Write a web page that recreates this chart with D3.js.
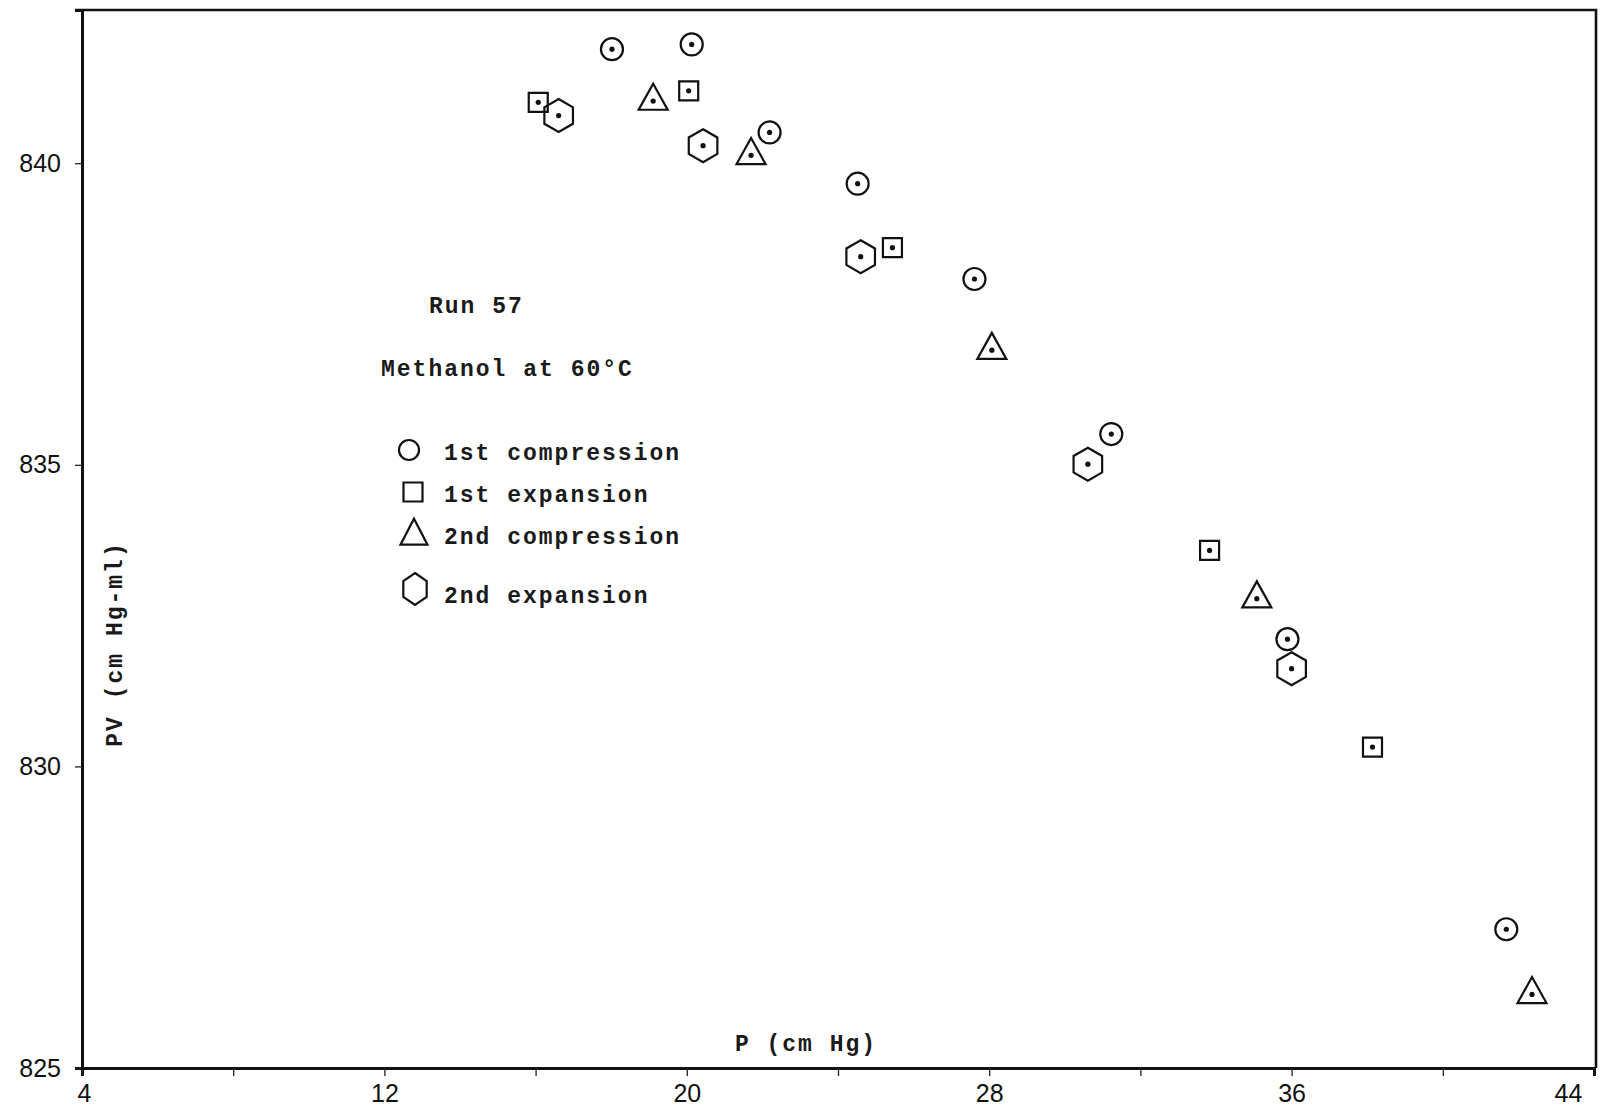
<!DOCTYPE html>
<meta charset="utf-8">
<style>
    body { margin: 0; background: #fff; }
    .tick-label { font-family: 'Liberation Sans', sans-serif; font-size: 25px; fill: #111; }
    .type { font-family: 'Liberation Mono', monospace; font-size: 23px; font-weight: bold; fill: #1a1a1a; letter-spacing: 2px; }
    .mark { fill: none; stroke: #111; stroke-width: 2.2px; }
    .dot { fill: #111; }
</style>
<script src="https://cdn.jsdelivr.net/npm/d3@7"></script>
<body>
<div id="chart"></div>
<script>
// readings: P (cm Hg) and PV (cm Hg-ml)
var comp1P  = [18.02, 20.13, 22.19, 24.52, 27.61, 31.23, 35.89, 41.68];
var comp1PV = [841.89, 841.97, 840.51, 839.66, 838.08, 835.51, 832.11, 827.30];

var exp1P  = [16.07, 20.05, 25.44, 33.83, 38.14];
var exp1PV = [841.01, 841.20, 838.60, 833.58, 830.32];

var comp2P  = [19.11, 21.70, 28.07, 35.08, 42.36];
var comp2PV = [841.03, 840.13, 836.90, 832.78, 826.22];

var exp2P  = [16.61, 20.43, 24.60, 30.61, 36.00];
var exp2PV = [840.79, 840.29, 838.45, 835.01, 831.62];

var seriesNames = ["1st compression", "1st expansion", "2nd compression", "2nd expansion"];
var xTicks = [4, 8, 12, 16, 20, 24, 28, 32, 36, 40, 44];
var xTickLabels = ["4", "", "12", "", "20", "", "28", "", "36", "", "44"];
var yTicks = [825, 830, 835, 840];

var width = 1601, height = 1107;

var svg = d3.select("#chart").append("svg")
    .attr("width", width)
    .attr("height", height);

var x = d3.scaleLinear().domain([4, 44]).range([82, 1594]);
var y = d3.scaleLinear().domain([825, 842.54]).range([1068, 10]);

// marker shapes
function circlePath(r) {
    return "M" + r + ",0A" + r + "," + r + " 0 1,1 " + (-r) + ",0A" + r + "," + r + " 0 1,1 " + r + ",0Z";
}
function squarePath(s) {
    var h = s / 2;
    return "M" + (-h) + "," + (-h) + "H" + h + "V" + h + "H" + (-h) + "Z";
}
function trianglePath(w, ht) {
    // centroid at origin
    return "M0," + (-ht * 2 / 3) + "L" + (w / 2) + "," + (ht / 3) + "L" + (-w / 2) + "," + (ht / 3) + "Z";
}
function hexPath(rx, ry) {
    var pts = [];
    for (var i = 0; i < 6; i++) {
        var a = Math.PI / 3 * i - Math.PI / 2;
        pts.push([rx * Math.cos(a), ry * Math.sin(a)]);
    }
    return "M" + pts.map(function (p) { return p[0].toFixed(2) + "," + p[1].toFixed(2); }).join("L") + "Z";
}

var dataShapes = [circlePath(11), squarePath(19), trianglePath(29, 26), hexPath(16.5, 16.5)];
var legendShapes = [circlePath(10), squarePath(19), trianglePath(27, 26), hexPath(13.5, 16)];

// frame
svg.append("path")
    .attr("d", "M" + 75 + "," + y(842.54) + "H" + 1596 + "V" + y(825))
    .attr("fill", "none")
    .attr("stroke", "#111")
    .attr("stroke-width", 2.6);

// x axis
var xAxis = svg.append("g")
    .attr("transform", "translate(0," + y(825) + ")")
    .call(d3.axisBottom(x)
        .tickValues(xTicks)
        .tickSize(8)
        .tickPadding(8)
        .tickFormat(function (d, i) { return xTickLabels[i]; }));
xAxis.select(".domain").attr("stroke", "#111").attr("stroke-width", 3);
xAxis.selectAll(".tick line").attr("stroke", "#222").attr("stroke-width", 1.3);
xAxis.selectAll(".tick text").attr("class", "tick-label").attr("font-size", null).attr("font-family", null);
xAxis.selectAll(".tick text").filter(function (d) { return d === 44; }).attr("dx", -26);
xAxis.selectAll(".tick text").filter(function (d) { return d === 4; }).attr("dx", 2);

// y axis
var yAxis = svg.append("g")
    .attr("transform", "translate(" + x(4) + ",0)")
    .call(d3.axisLeft(y)
        .tickValues(yTicks)
        .tickSize(7)
        .tickPadding(14));
yAxis.select(".domain").attr("stroke", "#111").attr("stroke-width", 3);
yAxis.selectAll(".tick line").attr("stroke", "#222").attr("stroke-width", 1.3);
yAxis.selectAll(".tick text").attr("class", "tick-label").attr("font-size", null).attr("font-family", null);

// axis titles
svg.append("text")
    .attr("class", "type")
    .attr("x", 806)
    .attr("y", 1051)
    .attr("text-anchor", "middle")
    .text("P (cm Hg)");

svg.append("text")
    .attr("class", "type")
    .attr("transform", "translate(122,644) rotate(-90)")
    .attr("text-anchor", "middle")
    .text("PV (cm Hg-ml)");

// data
var series = [
    { p: comp1P, pv: comp1PV },
    { p: exp1P, pv: exp1PV },
    { p: comp2P, pv: comp2PV },
    { p: exp2P, pv: exp2PV }
];

series.forEach(function (s, k) {
    var pts = s.p.map(function (d, i) { return [d, s.pv[i]]; });
    var g = svg.append("g").selectAll("g")
        .data(pts)
        .enter().append("g")
        .attr("transform", function (d) { return "translate(" + x(d[0]) + "," + y(d[1]) + ")"; });
    g.append("path")
        .attr("class", "mark")
        .attr("d", dataShapes[k]);
    g.append("circle")
        .attr("class", "dot")
        .attr("r", 2.6);
});

// notes and legend
svg.append("text").attr("class", "type").attr("x", 429).attr("y", 313).text("Run 57");
svg.append("text").attr("class", "type").attr("x", 381).attr("y", 376).text("Methanol at 60\u00B0C");

var legendRows = [
    { sx: 409, sy: 450, ty: 460 },
    { sx: 413, sy: 492, ty: 502 },
    { sx: 414, sy: 536, ty: 544 },
    { sx: 415, sy: 589, ty: 603 }
];

legendRows.forEach(function (r, k) {
    svg.append("path")
        .attr("class", "mark")
        .attr("transform", "translate(" + r.sx + "," + r.sy + ")")
        .attr("d", legendShapes[k]);
    svg.append("text")
        .attr("class", "type")
        .attr("x", 444)
        .attr("y", r.ty)
        .text(seriesNames[k]);
});
</script>
</body>
